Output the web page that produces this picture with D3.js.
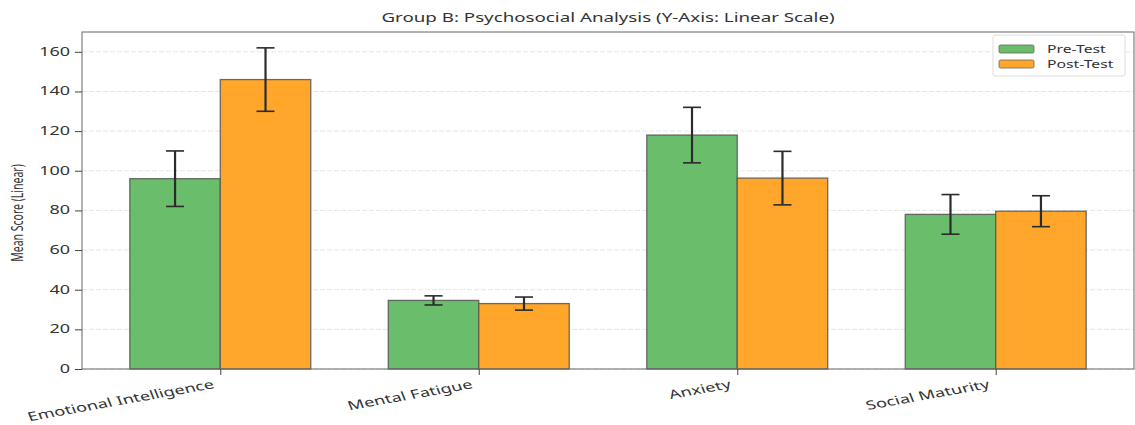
<!DOCTYPE html>
<html><head><meta charset="utf-8">
<script src="https://cdn.jsdelivr.net/npm/d3@7"></script>
<style>body{margin:0;background:#fff}svg{display:block;font-family:"Noto Sans",sans-serif}</style>
</head><body><svg id="c" width="1135" height="425"></svg>
<script>
const categories = ["Emotional Intelligence","Mental Fatigue","Anxiety","Social Maturity"];
const seriesNames = ["Pre-Test","Post-Test"];
const preMeans = [96, 34.6, 118, 78];
const preErr = [14, 2.3, 14, 10];
const postMeans = [146, 33, 96.3, 79.6];
const postErr = [16, 3.3, 13.5, 7.8];
const yTicks = [0,20,40,60,80,100,120,140,160];
const colors = ["#6abd6a","#ffa62b"];

const SX = 1.5; // horizontal stretch of text glyphs, as in the reference
const svg = d3.select("#c");
const L=82, R=1134, T=32, B=369;
const x = d3.scaleLinear().domain([-0.535,3.535]).range([L,R]);
const y = d3.scaleLinear().domain([0,170]).range([B,T]);
const w = 0.35;

// grid
svg.append("g").selectAll("line").data(yTicks).join("line")
  .attr("x1",L).attr("x2",R).attr("y1",d=>y(d)).attr("y2",d=>y(d))
  .attr("stroke","#e6e6e6").attr("stroke-width",1).attr("stroke-dasharray","5,2");

const series = [
  {name:seriesNames[0], means:preMeans, err:preErr, off:-w/2, color:colors[0]},
  {name:seriesNames[1], means:postMeans, err:postErr, off:w/2, color:colors[1]}
];
series.forEach(s=>{
  svg.append("g").selectAll("rect").data(s.means).join("rect")
    .attr("x",(d,i)=>x(i+s.off-w/2)).attr("width",x(w)-x(0))
    .attr("y",d=>y(d)).attr("height",d=>y(0)-y(d))
    .attr("fill",s.color).attr("stroke","#555").attr("stroke-opacity",0.85).attr("stroke-width",1.3);
});
series.forEach(s=>{
  const g = svg.append("g").attr("stroke","#2b2b2b");
  s.means.forEach((m,i)=>{
    const cx = x(i+s.off);
    g.append("line").attr("x1",cx).attr("x2",cx).attr("y1",y(m-s.err[i])).attr("y2",y(m+s.err[i])).attr("stroke-width",2.2);
    [m-s.err[i], m+s.err[i]].forEach(v=>
      g.append("line").attr("x1",cx-9).attr("x2",cx+9).attr("y1",y(v)).attr("y2",y(v)).attr("stroke-width",1.6));
  });
});

// frame
svg.append("rect").attr("x",L).attr("y",T).attr("width",R-L).attr("height",B-T)
  .attr("fill","none").attr("stroke","#666").attr("stroke-width",1);

// y axis ticks + labels
const ya = svg.append("g").attr("transform",`translate(${L},0)`)
  .call(d3.axisLeft(y).tickValues(yTicks).tickSize(7).tickFormat(""));
ya.select(".domain").remove();
ya.selectAll("line").attr("stroke","#444");
svg.append("g").selectAll("text").data(yTicks).join("text")
  .attr("transform",d=>`translate(${L-12},${y(d)+4}) scale(${SX},1)`)
  .attr("text-anchor","end").attr("font-size",12).attr("fill","#333").text(d=>d);

// x axis ticks
const xa = svg.append("g").attr("transform",`translate(0,${B})`)
  .call(d3.axisBottom(x).tickValues([0,1,2,3]).tickSize(6).tickFormat(""));
xa.select(".domain").remove();
xa.selectAll("line").attr("stroke","#444");
svg.append("g").selectAll("text").data(categories).join("text")
  .attr("transform",(d,i)=>`translate(${x(i)-5},${B+19}) scale(${SX},1) rotate(-15)`)
  .attr("text-anchor","end").attr("font-size",12.2).attr("fill","#333").text(d=>d);

// title
svg.append("text").attr("transform",`translate(${(L+R)/2},22) scale(${SX},1)`).attr("text-anchor","middle")
  .attr("font-size",12.5).attr("fill","#333").text("Group B: Psychosocial Analysis (Y-Axis: Linear Scale)");
// y label
svg.append("text").attr("transform",`translate(23,213) scale(${SX},1) rotate(-90)`).attr("text-anchor","middle")
  .attr("font-size",10.5).attr("fill","#333").text("Mean Score (Linear)");

// legend
const lg = svg.append("g");
lg.append("rect").attr("x",993).attr("y",35).attr("width",132).attr("height",41)
  .attr("fill","#fff").attr("fill-opacity",0.8).attr("stroke","#ddd").attr("rx",2);
series.forEach((s,i)=>{
  lg.append("rect").attr("x",999).attr("y",45+i*15).attr("width",35).attr("height",8).attr("rx",1.5)
    .attr("fill",s.color).attr("stroke","#666").attr("stroke-width",0.8);
  lg.append("text").attr("transform",`translate(1047,${53+i*15}) scale(${SX},1)`)
    .attr("font-size",10.5).attr("fill","#333").text(s.name);
});
</script></body></html>
